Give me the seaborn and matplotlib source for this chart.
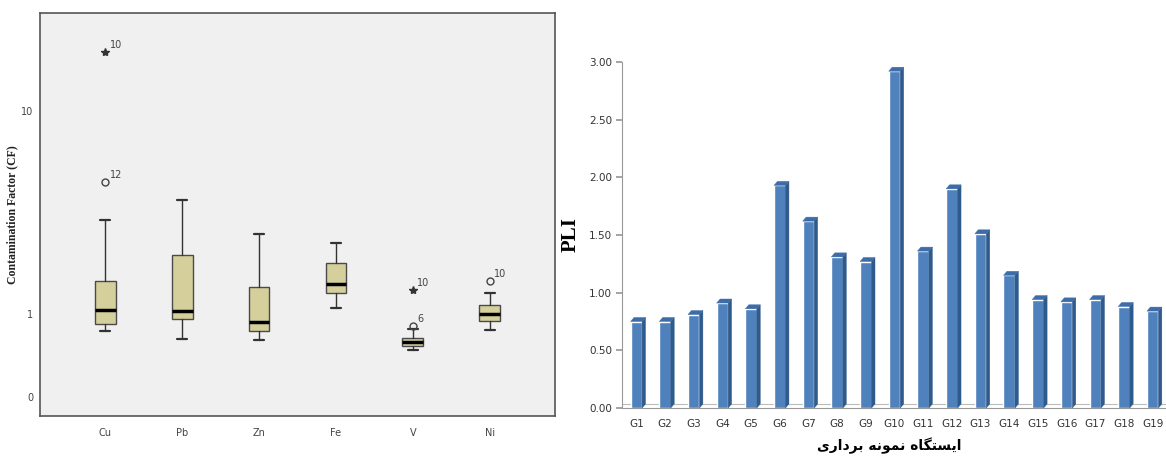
import numpy as np
import matplotlib
matplotlib.use('Agg')
import matplotlib.pyplot as plt
import seaborn as sns
from matplotlib.patches import Polygon
from matplotlib.ticker import NullLocator

# Left panel: contamination factor boxplot summary
elements = ['Cu', 'Pb', 'Zn', 'Fe', 'V', 'Ni']
whisker_low = [0.825, 0.753, 0.745, 1.07, 0.665, 0.834]
q1 = [0.89, 0.945, 0.825, 1.27, 0.696, 0.924]
median = [1.05, 1.035, 0.914, 1.41, 0.728, 1.0]
q3 = [1.45, 1.95, 1.36, 1.78, 0.762, 1.107]
whisker_high = [2.90, 3.64, 2.48, 2.24, 0.844, 1.27]

outlier_elem = ['Cu', 'Cu', 'V', 'V', 'Ni']
outlier_val = [19.5, 4.47, 1.31, 0.873, 1.45]
outlier_case = ['10', '12', '10', '6', '10']
outlier_kind = ['extreme', 'mild', 'extreme', 'mild', 'mild']

cf_ticks = [0.39, 1, 10]
cf_tick_labels = ['0', '1', '10']

# Right panel: PLI per sampling station
stations = ['G1', 'G2', 'G3', 'G4', 'G5', 'G6', 'G7', 'G8', 'G9', 'G10',
            'G11', 'G12', 'G13', 'G14', 'G15', 'G16', 'G17', 'G18', 'G19']
pli = [0.75, 0.75, 0.81, 0.91, 0.86, 1.93, 1.62, 1.31, 1.27, 2.92,
       1.36, 1.90, 1.51, 1.15, 0.94, 0.92, 0.94, 0.88, 0.84]

# "ایستگاه نمونه برداری" written with Arabic presentation forms in visual order
xlabel_fa = ('\uFEEF\uFEAD\uFE8D\uFEA9\uFEAE\uFE91' + ' ' +
             '\uFEEA\uFEE7\uFEEE\uFEE4\uFEE7' + ' ' +
             '\uFEE9\uFE8E\uFB95\uFE98\uFEB4\uFEF3\uFE8D')

sns.set_theme(style='white')
plt.rcParams['font.family'] = ['DejaVu Sans']

fig = plt.figure(figsize=(11.66, 4.57), dpi=100)

# ---------------- left: boxplot ----------------
ax1 = fig.add_axes([40 / 1166, 41 / 457, 515 / 1166, 403 / 457])
ax1.set_facecolor('#F0F0F0')

stats = []
for i, el in enumerate(elements):
    stats.append(dict(label=el, med=median[i], q1=q1[i], q3=q3[i],
                      whislo=whisker_low[i], whishi=whisker_high[i], fliers=[]))

ax1.bxp(stats, positions=range(len(elements)), widths=0.27, patch_artist=True,
        showfliers=False, capwidths=0.13,
        boxprops=dict(facecolor='#D4CF9B', edgecolor='#4a4a4a', linewidth=1),
        medianprops=dict(color='black', linewidth=2.5),
        whiskerprops=dict(color='#333333', linewidth=1),
        capprops=dict(color='#333333', linewidth=1.6))

for el, val, case, kind in zip(outlier_elem, outlier_val, outlier_case, outlier_kind):
    xpos = elements.index(el)
    if kind == 'extreme':
        ax1.plot(xpos, val, marker='*', color='#333333', markersize=6, linestyle='none')
    else:
        ax1.plot(xpos, val, marker='o', markerfacecolor='none', markeredgecolor='#444444',
                 markersize=5, markeredgewidth=1, linestyle='none')
    ax1.annotate(case, (xpos, val), xytext=(3, 3), textcoords='offset points',
                 fontsize=7, color='#444444')

ax1.set_yscale('log')
ax1.set_ylim(0.315, 30.4)
ax1.set_xlim(-0.85, 5.85)
ax1.yaxis.set_minor_locator(NullLocator())
ax1.set_yticks(cf_ticks)
ax1.set_yticklabels(cf_tick_labels)
ax1.set_xticks(range(len(elements)))
ax1.set_xticklabels(elements)
ax1.tick_params(axis='both', direction='out', length=4, width=0.8, color='#555555',
                labelsize=7, labelcolor='#444444', pad=5)
ax1.tick_params(axis='y', pad=1)
for s in ax1.spines.values():
    s.set_color('#555555')
    s.set_linewidth(1.2)
ax1.set_ylabel('Contamination Factor (CF)', fontfamily='Liberation Serif',
               fontweight='bold', fontsize=8.5, color='#222222')
ax1.yaxis.set_label_coords(-0.043, 0.5)

# ---------------- right: 3D-like bar chart ----------------
ax2 = fig.add_axes([622 / 1166, 49 / 457, 545 / 1166, 346 / 457])
ax2.set_facecolor('white')
sns.barplot(x=stations, y=pli, color='#4F81BD', saturation=1, width=0.4, ax=ax2)

dx, dy = 0.12, 0.035
ax2.axhline(dy, color='#BBBBBB', linewidth=0.8, zorder=0)
for p in list(ax2.patches):
    x0 = p.get_x()
    x1 = x0 + p.get_width()
    h = p.get_height()
    side = Polygon([(x1, 0), (x1 + dx, dy), (x1 + dx, h + dy), (x1, h)], closed=True,
                   facecolor='#2F5A8C', edgecolor='#2F5A8C', linewidth=0.3, clip_on=False)
    top = Polygon([(x0, h), (x0 + dx, h + dy), (x1 + dx, h + dy), (x1, h)], closed=True,
                  facecolor='#3D6CA8', edgecolor='#3D6CA8', linewidth=0.3, clip_on=False)
    ax2.add_patch(side)
    ax2.add_patch(top)

ax2.set_ylim(0, 3.0)
ax2.set_xlim(-0.5, 18.5)
ax2.set_yticks(np.arange(0, 3.01, 0.5))
ax2.set_yticklabels([f'{v:.2f}' for v in np.arange(0, 3.01, 0.5)])
ax2.set_xticks(np.arange(-0.5, 19, 1), minor=True)
ax2.tick_params(axis='x', which='major', length=0, labelsize=7.5, labelcolor='#333333', pad=8)
ax2.tick_params(axis='x', which='minor', length=4, color='#999999', direction='out')
ax2.tick_params(axis='y', length=4, color='#999999', direction='out', left=True,
                labelsize=7.5, labelcolor='#333333', pad=3)
for side_name in ['top', 'right']:
    ax2.spines[side_name].set_visible(False)
for side_name in ['left', 'bottom']:
    ax2.spines[side_name].set_color('#999999')
    ax2.spines[side_name].set_linewidth(0.8)

ax2.set_ylabel('PLI', fontfamily='Liberation Serif', fontweight='bold', fontsize=15,
               color='black')
ax2.yaxis.set_label_coords(-0.075, 0.5)
ax2.set_xlabel(xlabel_fa, fontfamily='DejaVu Sans', fontweight='bold', fontsize=10,
               color='black')
ax2.xaxis.set_label_coords(0.49, -0.085)

fig.savefig('out.png', dpi=100)
